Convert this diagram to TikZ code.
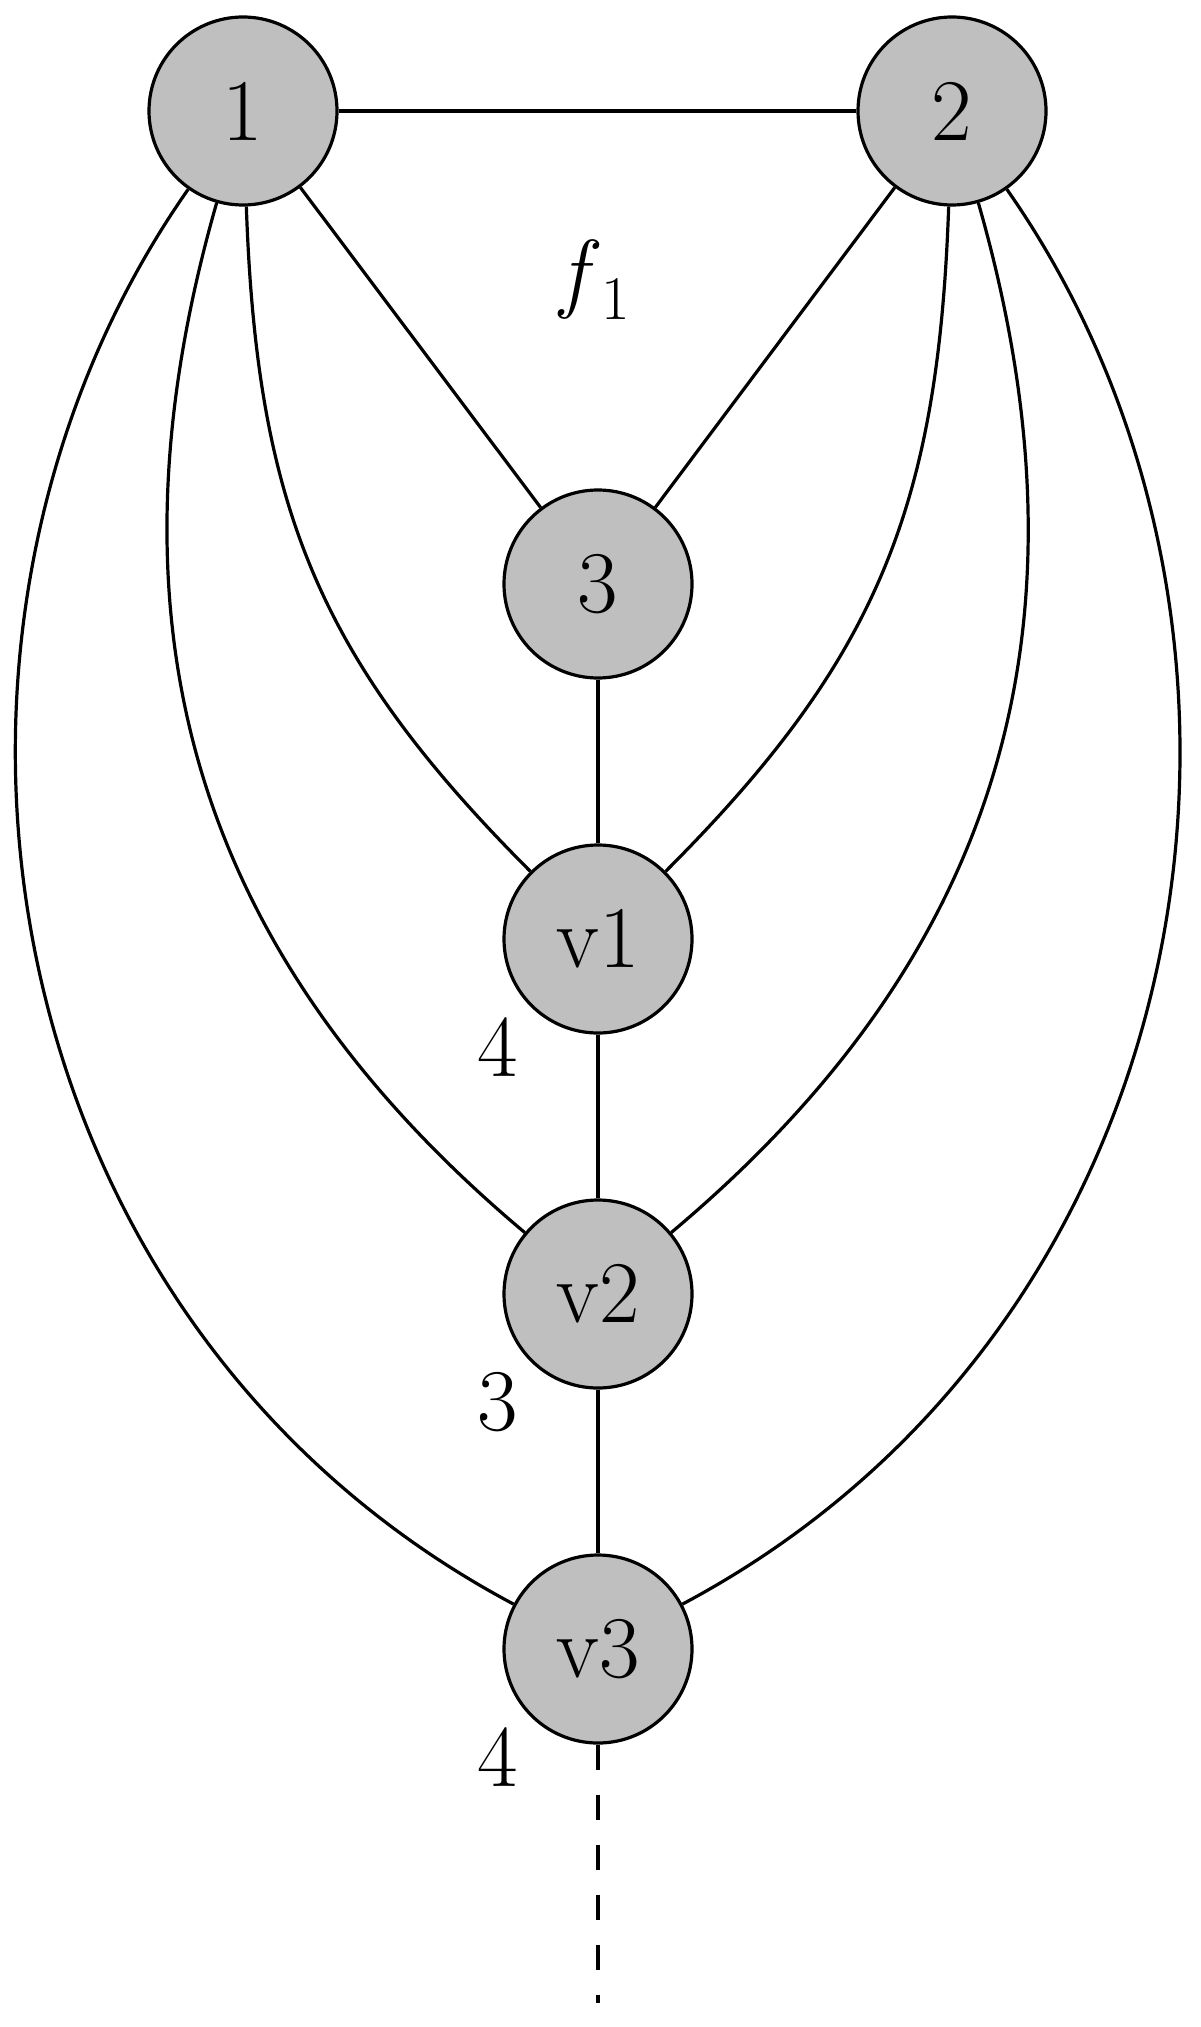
\documentclass[tikz,border=0pt]{standalone}
\usepackage{fontspec}
\setmainfont{Latin Modern Roman}
\begin{document}
\begin{tikzpicture}[x=0.5pt,y=0.5pt,
  vtx/.style={circle,draw=black,fill=black!25,line width=1.6pt,minimum size=94pt,inner sep=0pt,font=\fontsize{44}{50}\selectfont},
  edge/.style={line width=1.6pt},
  lbl/.style={font=\fontsize{44}{50}\selectfont,inner sep=0pt}]
\useasboundingbox (0,0) rectangle (1200,-2027);
\node[vtx] (n1) at (243,-111) {1};
\node[vtx] (n2) at (952,-111) {2};
\node[vtx] (n3) at (598,-584) {3};
\node[vtx] (v1) at (598,-939) {v1};
\node[vtx] (v2) at (598,-1294) {v2};
\node[vtx] (v3) at (598,-1649) {v3};
\coordinate (tail) at (598,-2003);
\node[lbl] (f) at (595,-280) {\textit{f}\kern1pt\raisebox{-9pt}{\fontsize{31}{35}\selectfont 1}};
\node[lbl] (l1) at (498,-1047) {4};
\node[lbl] (l2) at (498,-1402) {3};
\node[lbl] (l3) at (498,-1757) {4};
\draw[edge] (n1) -- (n2);
\draw[edge] (n1) -- (n3);
\draw[edge] (n2) -- (n3);
\draw[edge] (n3) -- (v1);
\draw[edge] (v1) -- (v2);
\draw[edge] (v2) -- (v3);
\draw[edge,dash pattern=on 12.5pt off 12.5pt] (v3) -- (tail);
\draw[edge] (n1) to[out=-88,in=135,out distance=150pt,in distance=150pt] (v1);
\draw[edge] (n1) to[out=-106,in=140,out distance=220pt,in distance=215pt] (v2);
\draw[edge] (n1) to[out=-125,in=152,out distance=270pt,in distance=300pt] (v3);
\draw[edge] (n2) to[out=-92,in=45,out distance=150pt,in distance=150pt] (v1);
\draw[edge] (n2) to[out=-74,in=40,out distance=220pt,in distance=215pt] (v2);
\draw[edge] (n2) to[out=-55,in=28,out distance=270pt,in distance=300pt] (v3);
\end{tikzpicture}
\end{document}
